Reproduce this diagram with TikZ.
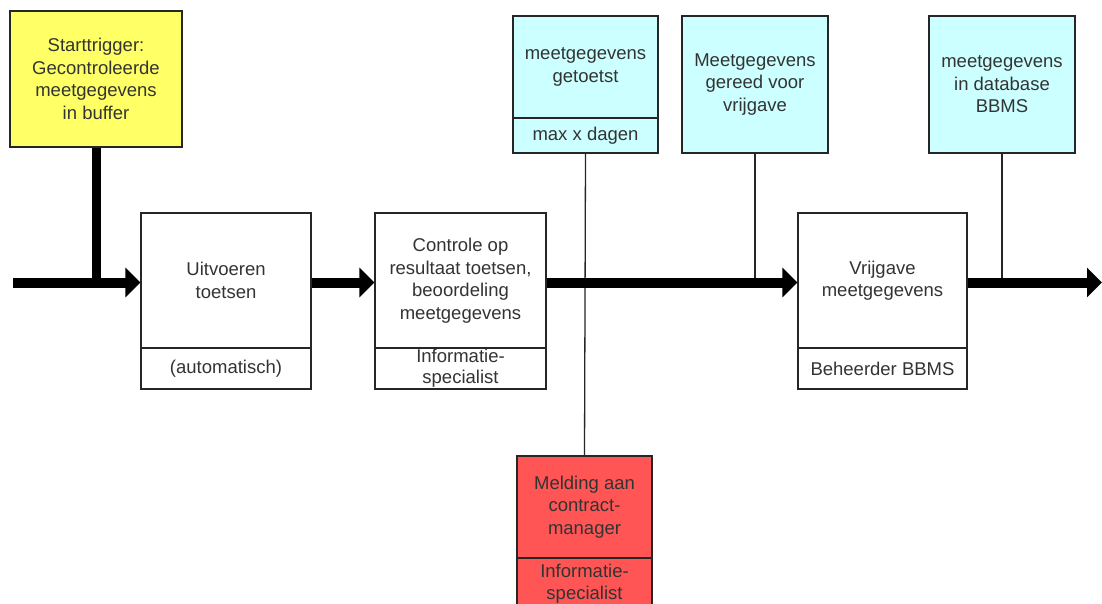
\documentclass[tikz,border=0pt]{standalone}
\usepackage{fontspec}
\setmainfont{Liberation Sans}
\usetikzlibrary{arrows.meta}
\definecolor{ylw}{HTML}{FFFF66}
\definecolor{cyn}{HTML}{CCFFFF}
\definecolor{rd}{HTML}{FF5555}
\definecolor{txt}{HTML}{333333}
\tikzset{
  box/.style={draw=black!85, line width=1.4pt, inner sep=0pt, align=center, text=txt,
    font=\fontsize{18.5}{22.5}\selectfont},
  flow/.style={line width=10pt, -{Triangle[length=15pt,width=29pt]}},
  feed/.style={line width=9pt},
  thin/.style={line width=1.3pt, draw=black!85},
}
\begin{document}
\begin{tikzpicture}[x=1pt,y=-1pt]
\clip (0,0) rectangle (1102,604);
\fill[white] (0,0) rectangle (1102,604);
% trigger
\node[box, fill=ylw, minimum width=172pt, minimum height=136pt] (yl) at (96,79)
  {Starttrigger:\\Gecontroleerde\\meetgegevens\\in buffer};
% process boxes
\node[box, fill=white, minimum width=170pt, minimum height=135pt] (b1u) at (226,280.5) {Uitvoeren\\toetsen};
\node[box, fill=white, minimum width=170pt, minimum height=41pt] (b1l) at (226,368.5) {(automatisch)};
\node[box, fill=white, minimum width=171pt, minimum height=135pt] (b2u) at (460.5,280.5)
  {Controle op\\resultaat toetsen,\\beoordeling\\meetgegevens};
\node[box, fill=white, minimum width=171pt, minimum height=41pt, font=\fontsize{18.5}{21}\selectfont] (b2l) at (460.5,368.5) {Informatie-\\specialist};
\node[box, fill=white, minimum width=169pt, minimum height=135pt] (b3u) at (882.5,280.5) {Vrijgave\\meetgegevens};
\node[box, fill=white, minimum width=169pt, minimum height=41pt] (b3l) at (882.5,368.5) {Beheerder BBMS};
% states
\node[box, fill=cyn, minimum width=145pt, minimum height=102pt] (c1u) at (585.5,67) {meetgegevens\\getoetst};
\node[box, fill=cyn, minimum width=145pt, minimum height=35pt] (c1l) at (585.5,135.5) {max x dagen};
\node[box, fill=cyn, minimum width=146pt, minimum height=137pt] (c2) at (755,84.5) {Meetgegevens\\gereed voor\\vrijgave};
\node[box, fill=cyn, minimum width=146pt, minimum height=137pt] (c3) at (1002,84.5) {meetgegevens\\in database\\BBMS};
% escalation
\node[box, fill=rd, minimum width=135pt, minimum height=102pt] (ru) at (584.5,507) {Melding aan\\contract-\\manager};
\node[box, fill=rd, minimum width=135pt, minimum height=52pt, font=\fontsize{18.5}{22}\selectfont] (rl) at (584.5,584) {Informatie-\\specialist};
% coordinates on main line
\coordinate (s0) at (13,282.5);
\coordinate (e0) at (1102,282.5);
% thin connectors
\draw[thin] (c1l.south) -- (ru.north);
\draw[thin] (c2.south) -- (c2.south |- s0);
\draw[thin] (c3.south) -- (c3.south |- s0);
% main flow
\draw[feed] (yl.south) -- (yl.south |- s0);
\draw[flow] (s0) -- (s0 -| b1u.west);
\draw[flow] (s0 -| b1u.east) -- (s0 -| b2u.west);
\draw[flow] (s0 -| b2u.east) -- (s0 -| b3u.west);
\draw[flow] (s0 -| b3u.east) -- (e0);
\end{tikzpicture}
\end{document}
